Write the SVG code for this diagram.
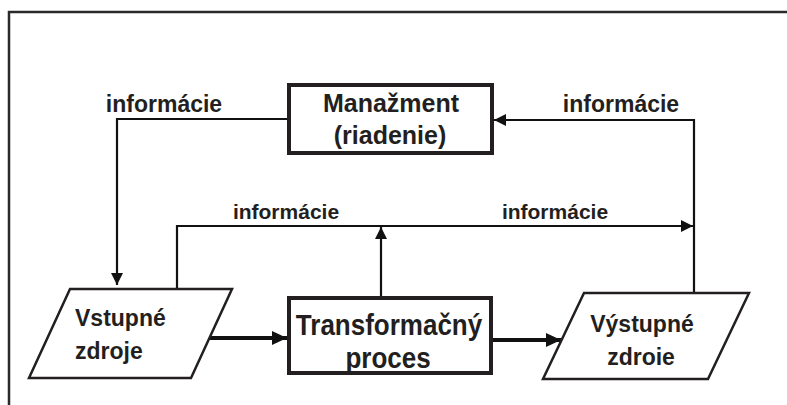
<svg xmlns="http://www.w3.org/2000/svg" width="787" height="405" viewBox="0 0 787 405">
  <style>
    .frame { fill: none; stroke: #2a2a2a; stroke-width: 2.5; }
    .box { fill: #ffffff; stroke: #231f20; stroke-width: 4; }
    .para { fill: #ffffff; stroke: #231f20; stroke-width: 2.5; stroke-linejoin: miter; }
    .wire { fill: none; stroke: #111111; stroke-width: 2.2; }
    .flow { fill: none; stroke: #111111; stroke-width: 4; }
    text { font-family: "Liberation Sans", Arial, sans-serif; font-weight: bold; fill: #231f20; }
    .lbl { font-size: 21px; }
    .lbl-top { font-size: 23px; }
    .res { font-size: 23px; }
    .mgmt { font-size: 25px; }
    .proc { font-size: 26px; }
  </style>
  <defs>
    <marker id="arrow" markerUnits="userSpaceOnUse" markerWidth="13" markerHeight="12" refX="12" refY="6" orient="auto">
      <path d="M0,0 L12,6 L0,12 z" fill="#111111"/>
    </marker>
    <marker id="arrow-bold" markerUnits="userSpaceOnUse" markerWidth="16" markerHeight="14" refX="15" refY="7" orient="auto">
      <path d="M0,0 L15,7 L0,14 z" fill="#111111"/>
    </marker>
  </defs>

  <rect x="0" y="0" width="787" height="405" fill="#ffffff"/>
  <path class="frame" d="M9,405 V12 H787"/>

  <!-- connectors -->
  <g id="connectors">
    <path class="wire" d="M287,119 H117 V285" marker-end="url(#arrow)"/>
    <path class="wire" d="M694,293 V120 H494" marker-end="url(#arrow)"/>
    <path class="wire" d="M177,289 V226 H693" marker-end="url(#arrow)"/>
    <path class="wire" d="M381,297 V227" marker-end="url(#arrow)"/>
    <path class="flow" d="M210,338 H287" marker-end="url(#arrow-bold)"/>
    <path class="flow" d="M492,340 H561" marker-end="url(#arrow-bold)"/>
    <text class="lbl-top" x="164" y="112" text-anchor="middle">informácie</text>
    <text class="lbl-top" x="621" y="112" text-anchor="middle">informácie</text>
    <text class="lbl" x="286" y="219" text-anchor="middle">informácie</text>
    <text class="lbl" x="555" y="219" text-anchor="middle">informácie</text>
  </g>

  <!-- management -->
  <g id="management">
    <rect class="box" x="289" y="85" width="203" height="68"/>
    <text class="mgmt" x="391" y="112" text-anchor="middle">Manažment</text>
    <text class="mgmt" x="390" y="144" text-anchor="middle">(riadenie)</text>
  </g>

  <!-- input resources -->
  <g id="input">
    <polygon class="para" points="70,289 232,289 191,378 29,378"/>
    <text class="res" x="75" y="326">Vstupné</text>
    <text class="res" x="75" y="359">zdroje</text>
  </g>

  <!-- transformation process -->
  <g id="process">
    <rect class="box" x="289" y="298" width="202" height="75"/>
    <text class="proc" text-anchor="middle" transform="translate(389,335) scale(1,1.13)">Transformačný</text>
    <text class="proc" text-anchor="middle" transform="translate(388,368) scale(1,1.13)">proces</text>
  </g>

  <!-- output resources -->
  <g id="output">
    <polygon class="para" points="584,293 749,293 708,379 543,379"/>
    <text class="res" x="642" y="332" text-anchor="middle">Výstupné</text>
    <text class="res" x="641" y="365" text-anchor="middle">zdroie</text>
  </g>
</svg>
